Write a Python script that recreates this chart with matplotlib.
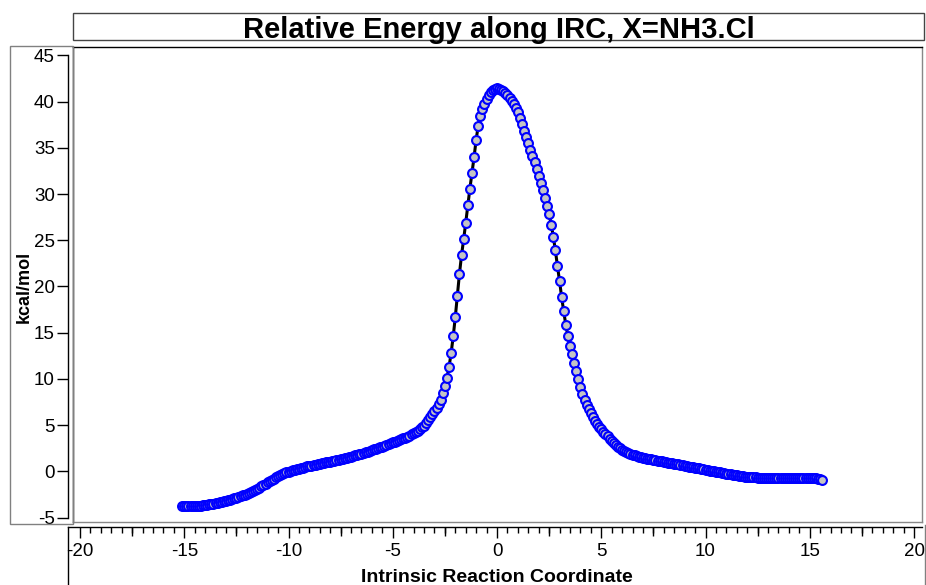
import matplotlib
matplotlib.use('Agg')
import numpy as np
import matplotlib.pyplot as plt
from matplotlib.patches import Rectangle
from matplotlib.lines import Line2D

plt.rcParams['font.family'] = ['Liberation Sans', 'DejaVu Sans']
plt.rcParams['axes.unicode_minus'] = False

title = 'Relative Energy along IRC, X=NH3.Cl'
xlabel = 'Intrinsic Reaction Coordinate'
ylabel = 'kcal/mol'

# IRC points
irc = [
    -15.1, -15.0, -14.9, -14.8, -14.7, -14.6, -14.5, -14.4, -14.3, -14.2, -14.1, -14.0,
    -13.9, -13.8, -13.7, -13.6, -13.5, -13.4, -13.3, -13.2, -13.1, -13.0,
    -12.9, -12.8, -12.7, -12.6, -12.5, -12.4, -12.3, -12.2, -12.1, -12.0,
    -11.9, -11.8, -11.7, -11.6, -11.5, -11.4, -11.3, -11.2, -11.1, -11.0,
    -10.9, -10.8, -10.7, -10.6, -10.5, -10.4, -10.3, -10.2, -10.1, -10.0,
    -9.9, -9.8, -9.7, -9.6, -9.5, -9.4, -9.3, -9.2, -9.1, -9.0,
    -8.9, -8.8, -8.7, -8.6, -8.5, -8.4, -8.3, -8.2, -8.1, -8.0,
    -7.9, -7.8, -7.7, -7.6, -7.5, -7.4, -7.3, -7.2, -7.1, -7.0,
    -6.9, -6.8, -6.7, -6.6, -6.5, -6.4, -6.3, -6.2, -6.1, -6.0,
    -5.9, -5.8, -5.7, -5.6, -5.5, -5.4, -5.3, -5.2, -5.1, -5.0,
    -4.9, -4.8, -4.7, -4.6, -4.5, -4.4, -4.3, -4.2, -4.1, -4.0,
    -3.9, -3.8, -3.7, -3.6, -3.5, -3.4, -3.3, -3.2, -3.1, -3.0,
    -2.9, -2.8, -2.7, -2.6, -2.5, -2.4, -2.3, -2.2, -2.1, -2.0,
    -1.9, -1.8, -1.7, -1.6, -1.5, -1.4, -1.3, -1.2, -1.1, -1.0,
    -0.9, -0.8, -0.7, -0.6, -0.5, -0.4, -0.3, -0.2, -0.1, 0.0,
    0.1, 0.2, 0.3, 0.4, 0.5, 0.6, 0.7, 0.8, 0.9, 1.0,
    1.1, 1.2, 1.3, 1.4, 1.5, 1.6, 1.7, 1.8, 1.9, 2.0,
    2.1, 2.2, 2.3, 2.4, 2.5, 2.6, 2.7, 2.8, 2.9, 3.0,
    3.1, 3.2, 3.3, 3.4, 3.5, 3.6, 3.7, 3.8, 3.9, 4.0,
    4.1, 4.2, 4.3, 4.4, 4.5, 4.6, 4.7, 4.8, 4.9, 5.0,
    5.1, 5.2, 5.3, 5.4, 5.5, 5.6, 5.7, 5.8, 5.9, 6.0,
    6.1, 6.2, 6.3, 6.4, 6.5, 6.6, 6.7, 6.8, 6.9, 7.0,
    7.1, 7.2, 7.3, 7.4, 7.5, 7.6, 7.7, 7.8, 7.9, 8.0,
    8.1, 8.2, 8.3, 8.4, 8.5, 8.6, 8.7, 8.8, 8.9, 9.0,
    9.1, 9.2, 9.3, 9.4, 9.5, 9.6, 9.7, 9.8, 9.9, 10.0,
    10.1, 10.2, 10.3, 10.4, 10.5, 10.6, 10.7, 10.8, 10.9, 11.0,
    11.1, 11.2, 11.3, 11.4, 11.5, 11.6, 11.7, 11.8, 11.9, 12.0,
    12.1, 12.2, 12.3, 12.4, 12.5, 12.6, 12.7, 12.8, 12.9, 13.0,
    13.1, 13.2, 13.3, 13.4, 13.5, 13.6, 13.7, 13.8, 13.9, 14.0,
    14.1, 14.2, 14.3, 14.4, 14.5, 14.6, 14.7, 14.8, 14.9, 15.0,
    15.1, 15.2, 15.3, 15.4, 15.5, 15.6,
]

energy = [
    -3.78, -3.78, -3.78, -3.77, -3.77, -3.76, -3.75, -3.74, -3.73, -3.72, -3.70, -3.67,
    -3.63, -3.59, -3.54, -3.50, -3.45, -3.40, -3.35, -3.30, -3.25, -3.20,
    -3.13, -3.06, -2.99, -2.92, -2.85, -2.77, -2.69, -2.61, -2.53, -2.45,
    -2.35, -2.24, -2.13, -2.02, -1.90, -1.77, -1.63, -1.49, -1.35, -1.21,
    -1.07, -0.93, -0.79, -0.64, -0.51, -0.40, -0.29, -0.19, -0.11, -0.04,
    0.03, 0.10, 0.16, 0.23, 0.29, 0.35, 0.41, 0.47, 0.52, 0.57,
    0.62, 0.67, 0.72, 0.77, 0.82, 0.87, 0.92, 0.96, 1.00, 1.05,
    1.10, 1.15, 1.20, 1.25, 1.30, 1.35, 1.41, 1.46, 1.52, 1.58,
    1.65, 1.72, 1.79, 1.85, 1.92, 1.99, 2.06, 2.13, 2.20, 2.28,
    2.36, 2.44, 2.52, 2.60, 2.68, 2.77, 2.85, 2.94, 3.03, 3.12,
    3.20, 3.28, 3.36, 3.45, 3.55, 3.65, 3.76, 3.87, 3.99, 4.12,
    4.26, 4.41, 4.57, 4.75, 4.95, 5.20, 5.50, 5.85, 6.20, 6.55,
    6.90, 7.25, 7.75, 8.45, 9.20, 10.10, 11.30, 12.80, 14.60, 16.70,
    19.00, 21.40, 23.40, 25.10, 26.90, 28.80, 30.60, 32.30, 34.00, 35.90,
    37.40, 38.50, 39.20, 39.80, 40.30, 40.75, 41.10, 41.30, 41.42, 41.45,
    41.42, 41.32, 41.15, 40.95, 40.70, 40.42, 40.10, 39.72, 39.30, 38.85,
    38.25, 37.60, 36.85, 36.20, 35.50, 34.80, 34.10, 33.45, 32.70, 31.95,
    31.15, 30.45, 29.60, 28.70, 27.85, 26.70, 25.40, 23.90, 22.20, 20.60,
    18.85, 17.30, 15.85, 14.65, 13.60, 12.65, 11.75, 10.85, 9.95, 9.15,
    8.40, 7.70, 7.20, 6.75, 6.30, 5.85, 5.45, 5.10, 4.80, 4.55,
    4.30, 4.05, 3.78, 3.52, 3.27, 3.04, 2.83, 2.64, 2.47, 2.32,
    2.19, 2.07, 1.96, 1.87, 1.79, 1.72, 1.65, 1.59, 1.53, 1.48,
    1.43, 1.38, 1.33, 1.28, 1.23, 1.19, 1.15, 1.11, 1.07, 1.03,
    0.99, 0.95, 0.91, 0.87, 0.83, 0.79, 0.74, 0.69, 0.64, 0.59,
    0.55, 0.51, 0.47, 0.43, 0.39, 0.35, 0.31, 0.27, 0.22, 0.17,
    0.12, 0.08, 0.04, 0.00, -0.04, -0.08, -0.12, -0.16, -0.20, -0.24,
    -0.28, -0.32, -0.36, -0.40, -0.44, -0.48, -0.52, -0.56, -0.59, -0.62,
    -0.64, -0.65, -0.66, -0.67, -0.68, -0.69, -0.70, -0.70, -0.71, -0.71,
    -0.72, -0.72, -0.72, -0.73, -0.73, -0.73, -0.73, -0.74, -0.74, -0.74,
    -0.74, -0.74, -0.75, -0.75, -0.75, -0.75, -0.75, -0.75, -0.76, -0.76,
    -0.76, -0.76, -0.77, -0.80, -0.86, -0.93,
]

W, H = 926, 585
fig = plt.figure(figsize=(W / 100, H / 100), dpi=100)


def box(l, t, r, b):
    # pixel box (from top-left) -> figure fraction rect
    return [l / W, 1 - b / H, (r - l) / W, (b - t) / H]


# pixel scale: x -20 -> 80px, 20 -> 914px ; y 45 -> 55.5px, -5 -> 517.5px
xs = 834 / 40.0
ys = 462 / 50.0

# --- main plot area ---
ax = fig.add_axes(box(73, 47, 922, 522))
ax.set_xlim(-20 - 7 / xs, -20 + 842 / xs)
ax.set_ylim(-5 - 4.5 / ys, 45 + 8.5 / ys)
ax.plot(irc, energy, '-', color='black', lw=2.2, zorder=2)
ax.plot(irc, energy, 'o', ms=6.4, mfc='#c4c4c4', mec='#0000ff', mew=1.5,
        ls='none', zorder=3)
ax.set_xticks([])
ax.set_yticks([])
ax.spines['top'].set_color('black')
ax.spines['left'].set_color('black')
ax.spines['right'].set_color('#888888')
ax.spines['bottom'].set_color('#888888')
for s in ax.spines.values():
    s.set_linewidth(1.0)

# --- left axis ---
yax = fig.add_axes(box(68, 55.5, 70, 517.5))
yax.set_ylim(-5, 45)
yax.set_yticks(np.arange(-5, 46, 5))
yax.set_xticks([])
yax.patch.set_visible(False)
for k in ['top', 'right', 'bottom']:
    yax.spines[k].set_visible(False)
yax.spines['left'].set_linewidth(1.0)
yax.tick_params(axis='y', direction='out', length=8, width=1.0, pad=1.5,
                labelsize=13.5)

# --- bottom axis ---
xlims = (-20 - 12 / xs, -20 + 842 / xs)
xax = fig.add_axes(box(68, 526, 922, 527))
xax.set_xlim(*xlims)
xax.set_xticks(np.arange(-20, 21, 5))
xax.set_xticks(np.arange(-20, 20.01, 0.5), minor=True)
xax.set_yticks([])
xax.patch.set_visible(False)
for k in ['top', 'right', 'left']:
    xax.spines[k].set_visible(False)
xax.spines['bottom'].set_linewidth(1.0)
xax.tick_params(axis='x', which='major', direction='out', length=8, width=1.0,
                pad=3.5, labelsize=13.5)
xax.tick_params(axis='x', which='minor', direction='out', length=4.5, width=1.0)

# medium ticks at the 2.5 marks
xmed = fig.add_axes(box(68, 526, 922, 527))
xmed.set_xlim(*xlims)
xmed.set_xticks(np.arange(-17.5, 20, 5))
xmed.set_yticks([])
xmed.patch.set_visible(False)
for s in xmed.spines.values():
    s.set_visible(False)
xmed.tick_params(axis='x', direction='out', length=6.5, width=1.0, labelbottom=False)

# --- boxes ---
fig.add_artist(Rectangle((73 / W, 1 - 40 / H), (924 - 73) / W, 27 / H,
                         transform=fig.transFigure, fill=False, ec='#444444', lw=1.0))
fig.add_artist(Rectangle((10 / W, 1 - 524 / H), 63 / W, 478 / H,
                         transform=fig.transFigure, fill=False, ec='#808080', lw=1.0))
fig.add_artist(Line2D([68 / W, 68 / W], [1 - 527 / H, 0], color='black', lw=1.0,
                      transform=fig.transFigure))
fig.add_artist(Line2D([925 / W, 925 / W], [1 - 525 / H, 0], color='#808080', lw=1.0,
                      transform=fig.transFigure))

# --- text ---
fig.text(499 / W, 1 - 37.5 / H, title, ha='center', va='baseline',
         fontsize=21, fontweight='bold')
fig.text(24 / W, 1 - 287 / H, ylabel, rotation=90, ha='center', va='center',
         fontsize=13, fontweight='bold')
fig.text(497 / W, 1 - 582 / H, xlabel, ha='center', va='baseline',
         fontsize=14, fontweight='bold')

fig.savefig('out.png', dpi=100)
